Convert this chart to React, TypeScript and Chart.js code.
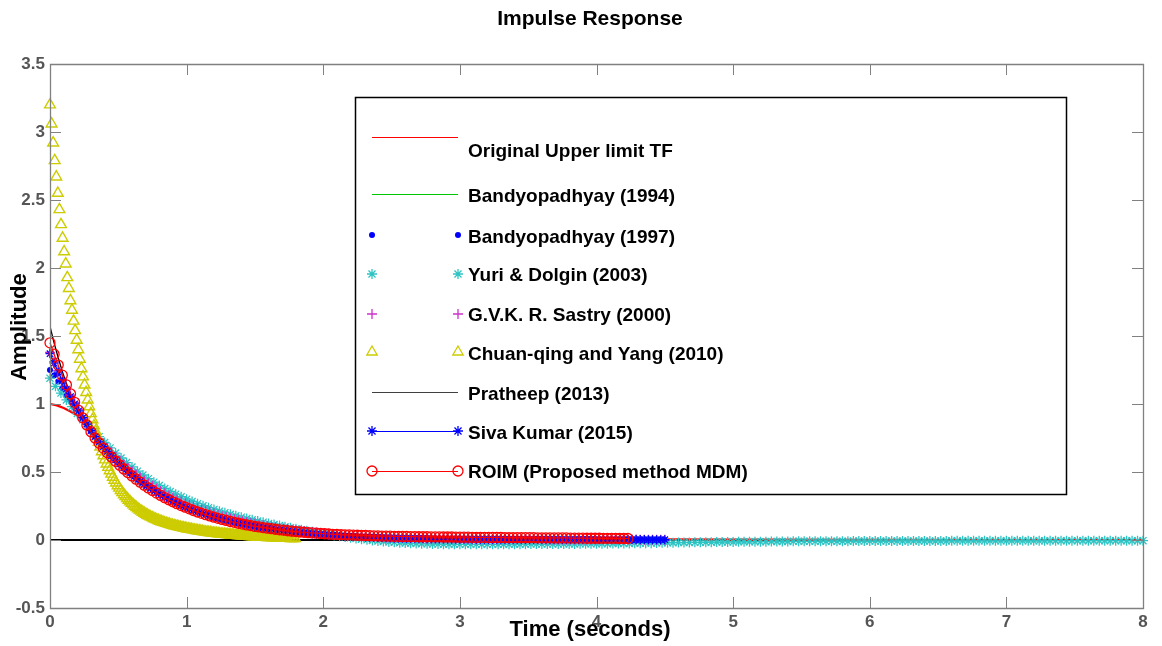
import React, { useEffect, useRef } from 'react';
import { Chart, registerables } from 'chart.js';

Chart.register(...registerables);

const FONT = "'Liberation Sans', Arial, Helvetica, sans-serif";

// ---------------- data ----------------
const X_TICKS = [0, 1, 2, 3, 4, 5, 6, 7, 8];
const Y_TICKS = [-0.5, 0, 0.5, 1, 1.5, 2, 2.5, 3, 3.5];

const LABELS = [
  'Original Upper limit TF',
  'Bandyopadhyay (1994)',
  'Bandyopadhyay (1997)',
  'Yuri & Dolgin (2003)',
  'G.V.K. R. Sastry (2000)',
  'Chuan-qing and Yang (2010)',
  'Pratheep (2013)',
  'Siva Kumar (2015)',
  'ROIM (Proposed method MDM)',
];

// sample steps of the individual impulse responses
const BUNDLE_DT = 0.03;
const YURI_DT = 0.04;
const CHUAN_DT = 0.0115;

const ORIG_T = [0, 0.05, 0.1, 0.15, 0.2, 0.25, 0.3, 0.35, 0.4, 0.5, 0.6, 0.7, 0.8, 0.9, 1.0, 1.2, 1.4, 1.6, 1.8, 2.0, 2.2, 2.5, 3.0, 3.5, 4.0, 4.5, 5, 6, 7, 8];
const ORIG_V = [1.0, 0.99, 0.97, 0.945, 0.915, 0.875, 0.81, 0.735, 0.67, 0.562, 0.473, 0.398, 0.335, 0.282, 0.238, 0.169, 0.12, 0.086, 0.062, 0.047, 0.037, 0.027, 0.02, 0.013, 0.008, 0.005, 0.003, 0.001, 0, 0];

const BANDY94_T = [0, 0.05, 0.1, 0.15, 0.2, 0.25, 0.3, 0.35, 0.4, 0.5, 0.6, 0.7, 0.8, 0.9, 1.0, 1.2, 1.4, 1.6, 1.8, 2.0, 2.2, 2.5, 3.0, 3.5, 4.0, 4.5];
const BANDY94_V = [1.37, 1.256, 1.15, 1.055, 0.967, 0.884, 0.805, 0.735, 0.675, 0.568, 0.478, 0.402, 0.339, 0.285, 0.24, 0.17, 0.12, 0.084, 0.058, 0.04, 0.028, 0.016, 0.007, 0.005, 0.004, 0.002];

const BANDY97_V = [
  1.25, 1.21, 1.165, 1.115, 1.065, 1.02, 0.975, 0.932, 0.89, 0.845, 0.8,
  0.757, 0.719, 0.683, 0.649, 0.616, 0.585, 0.556, 0.528, 0.501, 0.476,
  0.452, 0.429, 0.408, 0.387, 0.368, 0.349, 0.332, 0.315, 0.299, 0.284,
  0.27, 0.256, 0.243, 0.231, 0.219, 0.208, 0.198, 0.188, 0.178, 0.169,
  0.161, 0.153, 0.145, 0.138, 0.131, 0.124, 0.118, 0.112, 0.106, 0.101,
  0.095, 0.091, 0.086, 0.081, 0.077, 0.073, 0.069, 0.066, 0.062, 0.059,
  0.056, 0.053, 0.05, 0.047, 0.045, 0.042, 0.04, 0.038, 0.036, 0.034,
  0.032, 0.03, 0.028, 0.027, 0.025, 0.024, 0.022, 0.021, 0.02, 0.019,
  0.017, 0.016, 0.015, 0.014, 0.013, 0.013, 0.012, 0.011, 0.01, 0.01,
  0.009, 0.008, 0.008, 0.007, 0.007, 0.006, 0.006, 0.005, 0.005, 0.005,
  0.004, 0.004, 0.004, 0.004, 0.003, 0.003, 0.003, 0.003, 0.003, 0.002,
  0.002, 0.002, 0.002, 0.002, 0.002, 0.002, 0.002, 0.002, 0.002, 0.002,
  0.002, 0.001, 0.001, 0.001, 0.001, 0.001, 0.001, 0.001, 0.001, 0.001,
  0.001, 0.001, 0.001, 0.001, 0.001, 0.001, 0.001, 0.001, 0.001, 0.001,
  0.001, 0.001, 0.001, 0.001, 0, 0, 0, 0, 0, 0,
];

const YURI_V = [
  1.19, 1.13, 1.08, 1.03, 0.98, 0.93, 0.885, 0.84, 0.8, 0.76,
  0.717, 0.677, 0.639, 0.603, 0.569, 0.537, 0.506, 0.478, 0.451, 0.425,
  0.401, 0.379, 0.357, 0.337, 0.318, 0.3, 0.283, 0.267, 0.252, 0.238,
  0.225, 0.212, 0.2, 0.189, 0.178, 0.168, 0.158, 0.149, 0.14, 0.131,
  0.122, 0.114, 0.106, 0.098, 0.09, 0.082, 0.075, 0.068, 0.061, 0.054,
  0.047, 0.04, 0.034, 0.028, 0.022, 0.016, 0.011, 0.006, 0.001, -0.003,
  -0.007, -0.011, -0.014, -0.017, -0.02, -0.022, -0.024, -0.026, -0.027, -0.028,
  -0.029, -0.03, -0.031, -0.031, -0.032, -0.032, -0.032, -0.032, -0.032, -0.032,
  -0.032, -0.032, -0.032, -0.031, -0.031, -0.031, -0.031, -0.031, -0.03, -0.03,
  -0.03, -0.03, -0.03, -0.029, -0.029, -0.029, -0.029, -0.028, -0.028, -0.028,
  -0.028, -0.027, -0.027, -0.026, -0.026, -0.025, -0.025, -0.024, -0.024, -0.023,
  -0.023, -0.022, -0.021, -0.021, -0.02, -0.019, -0.019, -0.018, -0.017, -0.017,
  -0.016, -0.016, -0.015, -0.015, -0.014, -0.014, -0.013, -0.013, -0.013, -0.012,
  -0.012, -0.012, -0.011, -0.011, -0.011, -0.011, -0.01, -0.01, -0.01, -0.01,
  -0.01, -0.009, -0.009, -0.009, -0.009, -0.009, -0.009, -0.008, -0.008, -0.008,
  -0.008, -0.008, -0.008, -0.008, -0.008, -0.007, -0.007, -0.007, -0.007, -0.007,
  -0.007, -0.007, -0.007, -0.007, -0.007, -0.006, -0.006, -0.006, -0.006, -0.006,
  -0.006, -0.006, -0.006, -0.006, -0.006, -0.006, -0.006, -0.006, -0.006, -0.006,
  -0.006, -0.006, -0.006, -0.005, -0.005, -0.005, -0.005, -0.005, -0.005, -0.005,
  -0.005, -0.005, -0.005, -0.005, -0.005, -0.005, -0.005, -0.005, -0.005, -0.005, -0.005,
];

const SASTRY_V = [
  1.38, 1.31, 1.245, 1.18, 1.12, 1.065, 1.01, 0.96, 0.91, 0.865, 0.82,
  0.78, 0.743, 0.708, 0.675, 0.643, 0.613, 0.584, 0.557, 0.531, 0.506,
  0.482, 0.459, 0.438, 0.417, 0.398, 0.379, 0.361, 0.344, 0.328, 0.313,
  0.298, 0.284, 0.271, 0.258, 0.246, 0.234, 0.223, 0.213, 0.203, 0.193,
  0.184, 0.175, 0.167, 0.159, 0.152, 0.145, 0.138, 0.131, 0.125, 0.119,
  0.113, 0.108, 0.103, 0.098, 0.093, 0.088, 0.084, 0.08, 0.076, 0.072,
  0.068, 0.064, 0.061, 0.058, 0.055, 0.052, 0.049, 0.046, 0.043, 0.041,
  0.038, 0.036, 0.034, 0.032, 0.03, 0.028, 0.026, 0.025, 0.023, 0.022,
  0.02, 0.019, 0.018, 0.017, 0.016, 0.015, 0.014, 0.013, 0.012, 0.012,
  0.011, 0.01, 0.01, 0.009, 0.009, 0.008, 0.008, 0.008, 0.007, 0.007,
  0.007, 0.007, 0.006, 0.006, 0.006, 0.006, 0.006, 0.006, 0.005, 0.005,
  0.005, 0.005, 0.005, 0.005, 0.005, 0.005, 0.005, 0.005, 0.005, 0.005,
  0.004, 0.004, 0.004, 0.004, 0.004, 0.004, 0.004, 0.004, 0.004, 0.004,
  0.004, 0.004, 0.004, 0.003, 0.003, 0.003, 0.003, 0.003, 0.003, 0.003,
  0.003, 0.003, 0.003, 0.002, 0.002, 0.002, 0.002, 0.002, 0.002, 0.002,
];

const CHUAN_V = [
  3.2, 3.06, 2.92, 2.79, 2.67, 2.55, 2.43, 2.32, 2.22, 2.12,
  2.03, 1.93, 1.85, 1.76, 1.69, 1.61, 1.54, 1.47, 1.4, 1.33,
  1.26, 1.2, 1.14, 1.085, 1.03, 0.98, 0.93, 0.885, 0.84, 0.8,
  0.76, 0.72, 0.685, 0.65, 0.62, 0.59, 0.56, 0.535, 0.51, 0.485,
  0.462, 0.44, 0.42, 0.4, 0.382, 0.365, 0.349, 0.334, 0.32, 0.306,
  0.293, 0.281, 0.27, 0.259, 0.249, 0.239, 0.23, 0.221, 0.213, 0.205,
  0.197, 0.19, 0.183, 0.177, 0.171, 0.165, 0.159, 0.154, 0.149, 0.144,
  0.139, 0.135, 0.131, 0.127, 0.123, 0.119, 0.116, 0.112, 0.109, 0.106,
  0.103, 0.1, 0.097, 0.094, 0.092, 0.089, 0.087, 0.084, 0.082, 0.08,
  0.078, 0.075, 0.073, 0.071, 0.069, 0.067, 0.065, 0.063, 0.061, 0.059,
  0.058, 0.056, 0.054, 0.053, 0.051, 0.05, 0.048, 0.047, 0.046, 0.044,
  0.043, 0.042, 0.041, 0.04, 0.039, 0.038, 0.037, 0.036, 0.035, 0.034,
  0.033, 0.032, 0.031, 0.03, 0.029, 0.028, 0.028, 0.027, 0.026, 0.025,
  0.025, 0.024, 0.023, 0.022, 0.022, 0.021, 0.02, 0.02, 0.019, 0.019,
  0.018, 0.018, 0.017, 0.017, 0.016, 0.016, 0.015, 0.015, 0.014, 0.014,
  0.014, 0.013, 0.013, 0.012, 0.012, 0.012, 0.011,
];

const PRATHEEP_T = [0, 0.03, 0.06, 0.09, 0.12, 0.15, 0.18, 0.21, 0.24, 0.27, 0.3, 0.35, 0.4, 0.5, 0.6, 0.7, 0.8, 0.9, 1.0, 1.2, 1.4, 1.6, 1.8, 2.0, 2.2, 2.5, 3.0, 3.5, 4.0];
const PRATHEEP_V = [1.57, 1.45, 1.34, 1.24, 1.15, 1.07, 1.0, 0.94, 0.89, 0.84, 0.795, 0.728, 0.668, 0.562, 0.473, 0.398, 0.335, 0.282, 0.237, 0.168, 0.12, 0.086, 0.062, 0.047, 0.037, 0.027, 0.02, 0.014, 0.01];

const SIVA_V = [
  1.37, 1.3, 1.235, 1.17, 1.11, 1.055, 1.0, 0.95, 0.9, 0.852, 0.805,
  0.76, 0.722, 0.686, 0.652, 0.619, 0.588, 0.558, 0.53, 0.503, 0.478,
  0.454, 0.431, 0.409, 0.389, 0.369, 0.351, 0.333, 0.316, 0.3, 0.285,
  0.271, 0.257, 0.244, 0.232, 0.22, 0.209, 0.198, 0.188, 0.179, 0.17,
  0.161, 0.153, 0.145, 0.138, 0.131, 0.124, 0.118, 0.112, 0.106, 0.1,
  0.095, 0.09, 0.085, 0.081, 0.076, 0.072, 0.068, 0.065, 0.061, 0.058,
  0.055, 0.052, 0.049, 0.046, 0.044, 0.041, 0.039, 0.037, 0.035, 0.033,
  0.031, 0.029, 0.028, 0.026, 0.025, 0.023, 0.022, 0.021, 0.02, 0.019,
  0.018, 0.017, 0.016, 0.015, 0.014, 0.014, 0.013, 0.012, 0.012, 0.011,
  0.011, 0.01, 0.01, 0.009, 0.009, 0.009, 0.008, 0.008, 0.008, 0.007,
  0.007, 0.007, 0.007, 0.006, 0.006, 0.006, 0.006, 0.006, 0.006, 0.006,
  0.005, 0.005, 0.005, 0.005, 0.005, 0.005, 0.005, 0.005, 0.005, 0.005,
  0.005, 0.005, 0.005, 0.005, 0.004, 0.004, 0.004, 0.004, 0.004, 0.004,
  0.004, 0.004, 0.003, 0.003, 0.003, 0.003, 0.003, 0.003, 0.003, 0.003,
  0.003, 0.003, 0.003, 0.003, 0.003, 0.002, 0.002, 0.002, 0.002, 0.002,
];

const ROIM_V = [
  1.45, 1.366, 1.286, 1.212, 1.141, 1.075, 1.012, 0.953, 0.898, 0.846, 0.796,
  0.75, 0.712, 0.676, 0.642, 0.61, 0.579, 0.55, 0.522, 0.496, 0.471,
  0.447, 0.425, 0.403, 0.383, 0.364, 0.345, 0.328, 0.311, 0.296, 0.281,
  0.267, 0.253, 0.241, 0.229, 0.217, 0.206, 0.196, 0.186, 0.177, 0.168,
  0.159, 0.151, 0.144, 0.136, 0.13, 0.123, 0.117, 0.111, 0.106, 0.1,
  0.096, 0.091, 0.087, 0.083, 0.079, 0.075, 0.072, 0.068, 0.065, 0.062,
  0.059, 0.057, 0.054, 0.052, 0.05, 0.048, 0.046, 0.044, 0.042, 0.041,
  0.039, 0.038, 0.037, 0.036, 0.035, 0.034, 0.033, 0.032, 0.031, 0.03,
  0.029, 0.029, 0.028, 0.027, 0.027, 0.026, 0.026, 0.025, 0.025, 0.024,
  0.024, 0.024, 0.023, 0.023, 0.023, 0.022, 0.022, 0.022, 0.021, 0.021,
  0.021, 0.021, 0.02, 0.02, 0.02, 0.02, 0.019, 0.019, 0.019, 0.019,
  0.018, 0.018, 0.018, 0.018, 0.017, 0.017, 0.017, 0.017, 0.016, 0.016,
  0.016, 0.016, 0.015, 0.015, 0.015, 0.015, 0.014, 0.014, 0.014, 0.014,
  0.013, 0.013, 0.013, 0.013, 0.012, 0.012, 0.012, 0.012, 0.011, 0.011, 0.011,
];

// ---------------- helpers ----------------
const timeGrid = (dt: number, n: number) =>
  Array.from({ length: n }, (_, i) => Math.round(i * dt * 100000) / 100000);
const pts = (t: number[], v: number[]) => v.map((y, i) => ({ x: t[i], y }));

const C_RED = '#ff0000';
const C_GREEN = '#00c800';
const C_BLUE = '#0000ff';
const C_CYAN = '#2fc4c4';
const C_MAG = '#cc33cc';
const C_YEL = '#cccc00';
const C_BLACK = '#000000';
const AXIS_GREY = '#808080';
const TICK_TEXT = '#555555';

function drawMarker(ctx: CanvasRenderingContext2D, style: string, x: number, y: number, r: number, color: string) {
  ctx.save();
  ctx.strokeStyle = color;
  ctx.fillStyle = color;
  ctx.lineWidth = 1.3;
  ctx.beginPath();
  if (style === 'dot') {
    ctx.arc(x, y, r, 0, Math.PI * 2);
    ctx.fill();
  } else if (style === 'circle') {
    ctx.arc(x, y, r, 0, Math.PI * 2);
    ctx.stroke();
  } else if (style === 'cross') {
    ctx.moveTo(x - r, y); ctx.lineTo(x + r, y);
    ctx.moveTo(x, y - r); ctx.lineTo(x, y + r);
    ctx.stroke();
  } else if (style === 'star') {
    const d = r * Math.SQRT1_2;
    ctx.moveTo(x - r, y); ctx.lineTo(x + r, y);
    ctx.moveTo(x, y - r); ctx.lineTo(x, y + r);
    ctx.moveTo(x - d, y - d); ctx.lineTo(x + d, y + d);
    ctx.moveTo(x - d, y + d); ctx.lineTo(x + d, y - d);
    ctx.stroke();
  } else if (style === 'triangle') {
    const e = r * Math.sqrt(3);
    const h = e * Math.sqrt(3) / 2;
    ctx.moveTo(x - e / 2, y + h / 3);
    ctx.lineTo(x + e / 2, y + h / 3);
    ctx.lineTo(x, y - (2 * h) / 3);
    ctx.closePath();
    ctx.stroke();
  }
  ctx.restore();
}

// legend sample style per dataset (index = dataset index)
const LEGEND_STYLE = [
  { line: C_RED, lw: 1, marker: '', mc: '', lineDy: -15 },
  { line: C_GREEN, lw: 1, marker: '', mc: '', lineDy: -3 },
  { line: '', lw: 0, marker: 'dot', mc: C_BLUE, lineDy: -3 },
  { line: '', lw: 0, marker: 'star', mc: C_CYAN, lineDy: -2 },
  { line: '', lw: 0, marker: 'cross', mc: C_MAG, lineDy: -2 },
  { line: '', lw: 0, marker: 'triangle', mc: C_YEL, lineDy: -3 },
  { line: '#404040', lw: 1, marker: '', mc: '', lineDy: -3 },
  { line: C_BLUE, lw: 1, marker: 'star', mc: C_BLUE, lineDy: -3 },
  { line: C_RED, lw: 1, marker: 'circle', mc: C_RED, lineDy: -2 },
];

const decorPlugin = {
  id: 'matlabDecor',
  afterDatasetsDraw(chart: any) {
    const { ctx, chartArea: a, scales } = chart;
    const xs = scales.x;
    const ys = scales.y;
    ctx.save();
    ctx.strokeStyle = AXIS_GREY;
    ctx.lineWidth = 1.3;
    ctx.beginPath();
    ctx.rect(Math.round(a.left) + 0.5, Math.round(a.top) + 0.5, Math.round(a.right - a.left), Math.round(a.bottom - a.top));
    ctx.stroke();
    const tl = 11;
    ctx.lineWidth = 1;
    ctx.beginPath();
    X_TICKS.forEach((v) => {
      const px = Math.round(xs.getPixelForValue(v)) + 0.5;
      ctx.moveTo(px, a.bottom); ctx.lineTo(px, a.bottom - tl);
      ctx.moveTo(px, a.top); ctx.lineTo(px, a.top + tl);
    });
    Y_TICKS.forEach((v) => {
      const py = Math.round(ys.getPixelForValue(v)) + 0.5;
      ctx.moveTo(a.left, py); ctx.lineTo(a.left + tl, py);
      ctx.moveTo(a.right, py); ctx.lineTo(a.right - tl, py);
    });
    ctx.stroke();
    ctx.restore();
  },
  afterDraw(chart: any) {
    const { ctx } = chart;
    ctx.save();
    // titles
    ctx.fillStyle = '#000';
    ctx.textAlign = 'center';
    ctx.textBaseline = 'middle';
    ctx.font = `bold 21px ${FONT}`;
    ctx.fillText('Impulse Response', 590, 19);
    ctx.font = `bold 22px ${FONT}`;
    ctx.fillText('Time (seconds)', 590, 630);
    ctx.save();
    ctx.translate(20, 327);
    ctx.rotate(-Math.PI / 2);
    ctx.fillText('Amplitude', 0, 0);
    ctx.restore();

    // legend box
    const bx = 355, by = 97, bw = 711, bh = 397;
    ctx.fillStyle = '#fff';
    ctx.fillRect(bx, by, bw, bh);
    ctx.strokeStyle = '#000';
    ctx.lineWidth = 1.5;
    ctx.strokeRect(bx + 0.5, by + 0.5, bw, bh);

    const x1 = 372, x2 = 458, tx = 468;
    const rowY = [152, 197, 238, 276, 316, 355, 395, 434, 473];
    ctx.textAlign = 'left';
    ctx.textBaseline = 'middle';
    ctx.font = `bold 19px ${FONT}`;
    chart.data.datasets.forEach((ds: any, i: number) => {
      const st = LEGEND_STYLE[i];
      const yText = rowY[i];
      const yS = yText + st.lineDy;
      if (st.line) {
        ctx.save();
        ctx.strokeStyle = st.line;
        ctx.lineWidth = st.lw;
        ctx.beginPath();
        ctx.moveTo(x1, Math.round(yS) + 0.5);
        ctx.lineTo(x2, Math.round(yS) + 0.5);
        ctx.stroke();
        ctx.restore();
      }
      if (st.marker) {
        const r = st.marker === 'dot' ? 3 : st.marker === 'triangle' ? 6 : 5;
        drawMarker(ctx, st.marker, x1, yS, r, st.mc);
        drawMarker(ctx, st.marker, x2, yS, r, st.mc);
      }
      ctx.fillStyle = '#000';
      ctx.fillText(ds.label, tx, yText);
    });
    ctx.restore();
  },
};

export default function App() {
  const canvasRef = useRef<HTMLCanvasElement | null>(null);

  useEffect(() => {
    document.body.style.margin = '0';
    const canvas = canvasRef.current;
    if (!canvas) return;

    const bundleT = timeGrid(BUNDLE_DT, 151);
    const yuriT = timeGrid(YURI_DT, YURI_V.length);
    const chuanT = timeGrid(CHUAN_DT, CHUAN_V.length);

    const markerOnly = { showLine: false, borderWidth: 0, clip: false as any };

    const datasets: any[] = [
      { label: LABELS[0], data: pts(ORIG_T, ORIG_V), borderColor: C_RED, borderWidth: 2.2, pointRadius: 0, showLine: true, order: 8 },
      { label: LABELS[1], data: pts(BANDY94_T, BANDY94_V), borderColor: C_GREEN, borderWidth: 1, pointRadius: 0, showLine: true, order: 7 },
      { label: LABELS[2], data: pts(bundleT, BANDY97_V), ...markerOnly, pointStyle: 'circle', pointRadius: 3, pointBackgroundColor: C_BLUE, pointBorderColor: C_BLUE, pointBorderWidth: 0, order: 6 },
      { label: LABELS[3], data: pts(yuriT, YURI_V), ...markerOnly, pointStyle: 'star', pointRadius: 5, pointBorderColor: C_CYAN, pointBackgroundColor: C_CYAN, pointBorderWidth: 1.3, order: 5 },
      { label: LABELS[4], data: pts(bundleT, SASTRY_V), ...markerOnly, pointStyle: 'cross', pointRadius: 5, pointBorderColor: C_MAG, pointBackgroundColor: C_MAG, pointBorderWidth: 1.3, order: 4 },
      { label: LABELS[5], data: pts(chuanT, CHUAN_V), ...markerOnly, pointStyle: 'triangle', pointRadius: 6.2, pointBorderColor: C_YEL, pointBackgroundColor: 'rgba(0,0,0,0)', pointBorderWidth: 1.4, order: 3 },
      { label: LABELS[6], data: pts(PRATHEEP_T, PRATHEEP_V), borderColor: C_BLACK, borderWidth: 1.3, pointRadius: 0, showLine: true, order: 2 },
      { label: LABELS[7], data: pts(bundleT, SIVA_V), borderColor: C_BLUE, borderWidth: 1.2, showLine: true, pointStyle: 'star', pointRadius: 4.5, pointBorderColor: C_BLUE, pointBackgroundColor: C_BLUE, pointBorderWidth: 1.3, clip: false, order: 1 },
      { label: LABELS[8], data: pts(bundleT, ROIM_V), borderColor: C_RED, borderWidth: 1.2, showLine: true, pointStyle: 'circle', pointRadius: 5, pointBorderColor: C_RED, pointBackgroundColor: 'rgba(0,0,0,0)', pointBorderWidth: 1.3, clip: false, order: 0 },
    ];

    const tickFont = { family: FONT, size: 17, weight: 'bold' as const };

    const chart = new Chart(canvas, {
      type: 'line',
      data: { datasets },
      options: {
        animation: false,
        responsive: false,
        maintainAspectRatio: false,
        layout: { padding: { top: 64, right: 19, left: 0, bottom: 0 } },
        plugins: { legend: { display: false }, title: { display: false }, tooltip: { enabled: false } },
        elements: { line: { tension: 0 } },
        scales: {
          x: {
            type: 'linear',
            min: 0,
            max: 8,
            afterBuildTicks: (s: any) => { s.ticks = X_TICKS.map((v) => ({ value: v })); },
            ticks: { color: TICK_TEXT, font: tickFont, padding: 4, maxRotation: 0, autoSkip: false },
            grid: { display: false, drawTicks: false },
            border: { display: false },
            afterFit: (s: any) => { s.height = 38; },
          },
          y: {
            type: 'linear',
            min: -0.5,
            max: 3.5,
            afterBuildTicks: (s: any) => { s.ticks = Y_TICKS.map((v) => ({ value: v })); },
            ticks: { color: TICK_TEXT, font: tickFont, padding: 5, autoSkip: false, callback: (v: any) => String(v) },
            grid: {
              drawTicks: false,
              lineWidth: 2,
              color: (c: any) => (c.tick && c.tick.value === 0 ? '#000000' : 'rgba(0,0,0,0)'),
            },
            border: { display: false },
            afterFit: (s: any) => { s.width = 50; },
          },
        },
      } as any,
      plugins: [decorPlugin],
    });

    return () => chart.destroy();
  }, []);

  return (
    <div style={{ width: 1162, height: 646, background: '#fff' }}>
      <canvas ref={canvasRef} width={1162} height={646} style={{ display: 'block' }} />
    </div>
  );
}
